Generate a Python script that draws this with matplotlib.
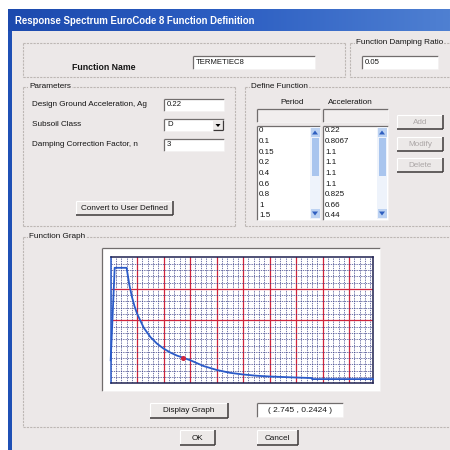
import matplotlib
matplotlib.use("Agg")
import matplotlib.pyplot as plt
from matplotlib.patches import Rectangle, Polygon
from matplotlib.colors import LinearSegmentedColormap
import numpy as np

plt.rcParams['font.family'] = ['Liberation Sans', 'DejaVu Sans']

# ---------------- data ----------------
TITLE = "Response Spectrum EuroCode 8 Function Definition"
function_name = "TERMETIEC8"
damping_ratio = "0.05"
param_labels = ["Design Ground Acceleration, Ag", "Subsoil Class", "Damping Correction Factor, n"]
param_values = ["0.22", "D", "3"]
list_periods = ["0", "0.1", "0.15", "0.2", "0.4", "0.6", "0.8", "1", "1.5"]
list_accels = ["0.22", "0.8067", "1.1", "1.1", "1.1", "1.1", "0.825", "0.66", "0.44"]
curve_period = [0, 0.1, 0.15, 0.2, 0.4, 0.6, 0.7, 0.8, 0.9, 1, 1.25, 1.5, 1.75, 2, 2.25, 2.5, 2.75,
                3, 3.5, 4, 4.5, 5, 5.5, 6, 6.5, 7, 7.6, 7.6, 8, 9, 9.9]
curve_accel = [0.22, 0.8067, 1.1, 1.1, 1.1, 1.1, 0.943, 0.825, 0.733, 0.66, 0.528, 0.44, 0.377, 0.33,
               0.293, 0.264, 0.2424, 0.22, 0.165, 0.127, 0.1, 0.084, 0.072, 0.065, 0.06, 0.055,
               0.05, 0.04, 0.04, 0.04, 0.04]
cursor_point = (2.745, 0.2424)
coord_label = "( 2.745 , 0.2424 )"
x_major = [1, 2, 3, 4, 5, 6, 7, 8, 9]
y_major = [0.6, 0.9]

# ---------------- figure ----------------
W = H = 450
fig = plt.figure(figsize=(4.5, 4.5), dpi=100)
fig.patch.set_facecolor('white')
bg = fig.add_axes([0, 0, 1, 1])
bg.set_xlim(0, W)
bg.set_ylim(H, 0)
bg.axis('off')

BODY = '#ECE8E8'
LIGHT = '#FFFFFF'
ETCH = '#BDB7B4'
FS = 5.9


def rect(x, y, w, h, fc, ec='none', lw=0.8, z=1):
    bg.add_patch(Rectangle((x, y), w, h, facecolor=fc, edgecolor=ec, lw=lw, zorder=z))


def line(xs, ys, c, lw=0.8, z=2, ls='-'):
    bg.plot(xs, ys, color=c, lw=lw, zorder=z, ls=ls, solid_capstyle='butt')


def txt(x, y, s, size=FS, c='#151515', ha='left', weight='normal', z=5):
    bg.text(x, y, s, fontsize=size, color=c, ha=ha, va='center', weight=weight, zorder=z)


def sunken(x, y, w, h, fc='white'):
    rect(x, y, w, h, fc, z=2)
    line([x, x + w], [y, y], '#716D6D', 0.9, 3)
    line([x, x], [y, y + h], '#716D6D', 0.9, 3)
    line([x, x + w], [y + h, y + h], '#F4F2F2', 0.7, 3)
    line([x + w, x + w], [y, y + h], '#F4F2F2', 0.7, 3)


def button(x, y, w, h, label, enabled=True):
    rect(x, y, w, h, '#ECE9E8', z=2)
    line([x, x + w], [y, y], LIGHT, 0.8, 3)
    line([x, x], [y, y + h], LIGHT, 0.8, 3)
    line([x, x + w], [y + h, y + h], '#3c3838', 1.1, 3)
    line([x + w, x + w], [y, y + h], '#3c3838', 1.1, 3)
    txt(x + w / 2, y + h / 2 + 0.5, label, ha='center', c='#151515' if enabled else '#ABA6A6')


def group(x, y, w, h, label, lx):
    for xs, ys in [([x, x + w], [y, y]), ([x, x + w], [y + h, y + h]),
                   ([x, x], [y, y + h]), ([x + w, x + w], [y, y + h])]:
        line(xs, ys, ETCH, 0.8, 2, ls=(0, (2, 1)))
    if label:
        bg.text(lx, y, label, fontsize=FS, color='#151515', ha='left', va='center', zorder=5,
                bbox=dict(facecolor=BODY, edgecolor='none', pad=0.6))


def scrollbar(x, y, w, h):
    rect(x, y, w, h, '#EEF3FB', z=3)
    rect(x + 0.5, y + 1, w - 1, 9, '#BCD2F2', z=4)
    rect(x + 0.5, y + h - 10, w - 1, 9, '#BCD2F2', z=4)
    rect(x + 1.5, y + 11, w - 3, 38, '#A9C5EE', z=4)
    cx = x + w / 2
    bg.add_patch(Polygon([[cx - 3, y + 7.5], [cx + 3, y + 7.5], [cx, y + 3.5]], closed=True,
                         facecolor='#2F5FC0', edgecolor='none', zorder=5))
    bg.add_patch(Polygon([[cx - 3, y + h - 7.5], [cx + 3, y + h - 7.5], [cx, y + h - 3.5]], closed=True,
                         facecolor='#2F5FC0', edgecolor='none', zorder=5))


# dialog body
rect(8, 9, 442, 441, BODY, z=0)
rect(8, 9, 4, 441, '#1F50B5', z=1)
grad = np.linspace(0, 1, 256).reshape(1, -1)
cmap = LinearSegmentedColormap.from_list('tb', ['#1C4AAE', '#2C5EC2', '#4F80D2'])
bg.imshow(grad, cmap=cmap, extent=(8, 450, 31, 9), aspect='auto', zorder=1)
bg.set_xlim(0, W)
bg.set_ylim(H, 0)
txt(15, 20.5, TITLE, size=6.9, c='white', weight='bold')

# Function name group
group(23, 43, 322, 34, '', 0)
txt(72, 67, 'Function Name', size=6.3, weight='bold')
sunken(193, 56, 122, 13)
txt(196, 62.5, function_name, size=5.6)

# Damping ratio group
group(350, 43, 110, 34, 'Function Damping Ratio', 356)
sunken(362, 56, 76, 13)
txt(365, 62.5, damping_ratio, size=5.6)

# Parameters group
group(23, 87, 212, 139, 'Parameters', 29)
rows_y = [105, 125, 145]
for lab, val, yy in zip(param_labels, param_values, rows_y):
    txt(32, yy, lab)
    sunken(164, yy - 6, 60, 12)
    txt(167, yy, val, size=5.6)
rect(213, 120, 10, 10, '#ECE9E8', z=4)
line([213, 223], [130, 130], '#3c3838', 0.9, 5)
line([223, 223], [120, 130], '#3c3838', 0.9, 5)
bg.add_patch(Polygon([[215.5, 124], [220.5, 124], [218, 127]], closed=True, facecolor='black',
                     edgecolor='none', zorder=6))
button(76, 201, 97, 14, 'Convert to User Defined')

# Define Function group
group(245, 87, 215, 139, 'Define Function', 251)
txt(292, 103, 'Period', ha='center')
txt(350, 103, 'Acceleration', ha='center')
sunken(257, 109, 63, 13, fc='#F1EEEE')
sunken(323, 109, 65, 13, fc='#F1EEEE')
sunken(257, 126, 63, 94)
sunken(323, 126, 65, 94)
scrollbar(310, 127, 10, 92)
scrollbar(377, 127, 10, 92)
for i, (p, a) in enumerate(zip(list_periods, list_accels)):
    yy = 131 + i * 10.6
    txt(259, yy, p, size=5.8)
    txt(325, yy, a, size=5.8)
button(397, 115, 46, 14, 'Add', enabled=False)
button(397, 137, 46, 14, 'Modify', enabled=False)
button(397, 158, 46, 14, 'Delete', enabled=False)

# Function Graph group
group(23, 237, 437, 190, 'Function Graph', 29)
sunken(102, 248, 278, 143)

button(150, 403, 78, 15, 'Display Graph')
sunken(257, 403, 86, 14)
txt(300, 410.5, coord_label, ha='center', size=6.0)

button(180, 430, 35, 15, 'OK')
button(257, 430, 41, 15, 'Cancel')

# ---------------- graph ----------------
x0, x1, y0, y1 = 110.7, 373.0, 257.3, 383.3
gax = fig.add_axes([x0 / W, 1 - y1 / H, (x1 - x0) / W, (y1 - y0) / H])
gax.set_facecolor('white')
gax.set_xlim(0, 9.9)
gax.set_ylim(0, 1.2)
gax.set_xticks(np.arange(0, 9.9, 0.2), minor=True)
gax.set_yticks(np.arange(0, 1.2, 0.06), minor=True)
gax.set_xticks(x_major)
gax.set_yticks(y_major)
gax.grid(which='minor', color='#2E3480', lw=0.6, ls=(0, (1.6, 1.2)), alpha=0.8)
gax.grid(which='major', color='#D0243C', lw=0.9, ls='-')
gax.tick_params(which='both', length=0, labelbottom=False, labelleft=False)
gax.set_axisbelow(True)
for s in gax.spines.values():
    s.set_color('#1E2050')
    s.set_linewidth(1.1)
gax.spines['left'].set_color('#2A5AC8')
gax.plot(curve_period, curve_accel, color='#2A5AC8', lw=1.3, zorder=5, clip_on=False)
gax.plot([cursor_point[0]], [cursor_point[1]], 'o', color='#D0243C', ms=2.6, zorder=6)

fig.savefig('out.png', dpi=100)
